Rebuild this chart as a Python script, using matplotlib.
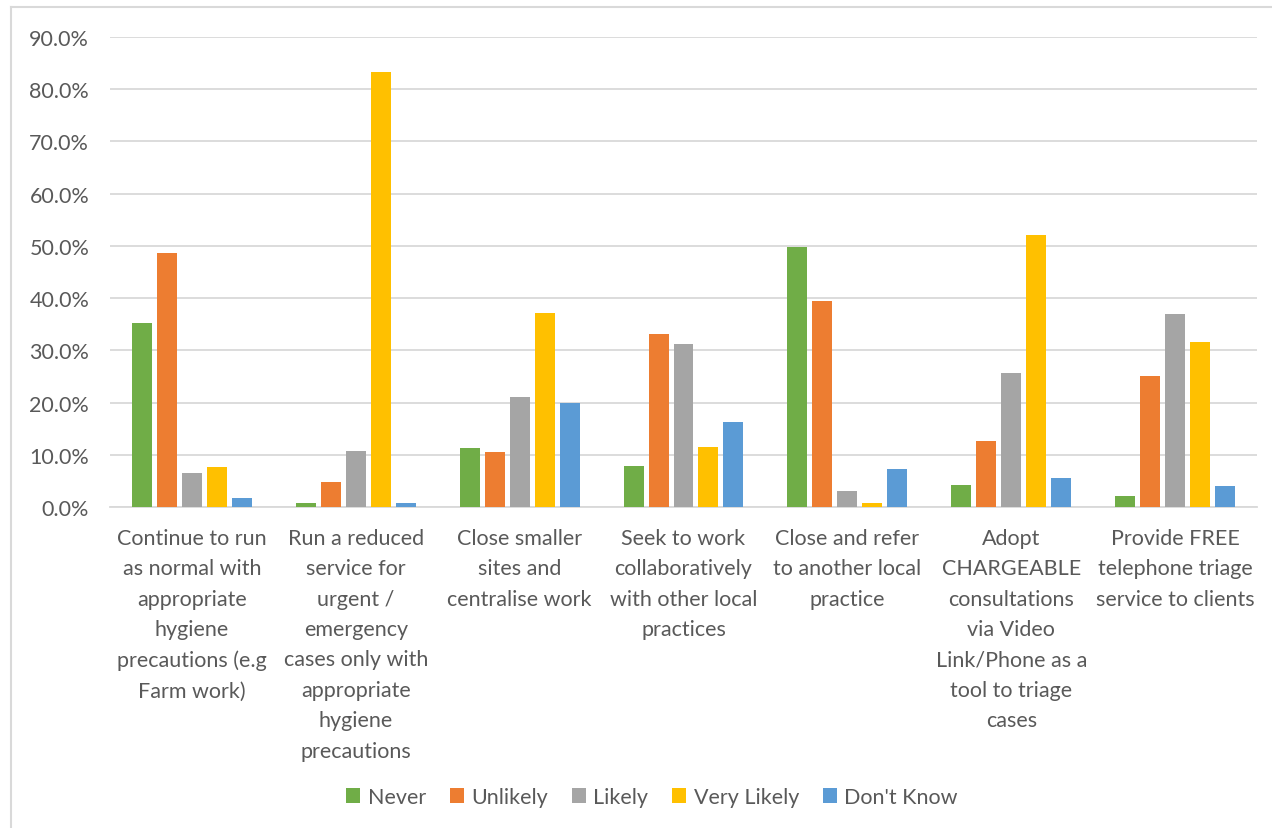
import numpy as np
import matplotlib.pyplot as plt
from matplotlib.lines import Line2D

# categories, as wrapped in the reference
categories = [
    "Continue to run\nas normal with\nappropriate\nhygiene\nprecautions (e.g\nFarm work)",
    "Run a reduced\nservice for\nurgent /\nemergency\ncases only with\nappropriate\nhygiene\nprecautions",
    "Close smaller\nsites and\ncentralise work",
    "Seek to work\ncollaboratively\nwith other local\npractices",
    "Close and refer\nto another local\npractice",
    "Adopt\nCHARGEABLE\nconsultations\nvia Video\nLink/Phone as a\ntool to triage\ncases",
    "Provide FREE\ntelephone triage\nservice to clients",
]

series_names = ["Never", "Unlikely", "Likely", "Very Likely", "Don't Know"]
never = [35.2, 0.7, 11.3, 7.8, 49.7, 4.2, 2.2]
unlikely = [48.7, 4.8, 10.6, 33.1, 39.4, 12.6, 25.1]
likely = [6.6, 10.7, 21.1, 31.3, 3.0, 25.7, 36.9]
very_likely = [7.7, 83.3, 37.1, 11.5, 0.7, 52.0, 31.6]
dont_know = [1.8, 0.7, 19.9, 16.3, 7.3, 5.5, 4.1]
colors = ["#70AD47", "#ED7D31", "#A5A5A5", "#FFC000", "#5B9BD5"]

plt.rcParams['font.family'] = ['Lato', 'DejaVu Sans']
txt = "#595959"
fs = 15.5

fig = plt.figure(figsize=(12.72, 8.29), dpi=100)
ax = fig.add_axes([110/1272, 1 - 508/829, 1147/1272, 470/829])

x = np.arange(len(categories))
step = 0.1525
width = 0.122
all_vals = [never, unlikely, likely, very_likely, dont_know]
for i, vals in enumerate(all_vals):
    ax.bar(x + (i - 2) * step, vals, width, color=colors[i],
           label=series_names[i], zorder=3)

ax.set_xlim(-0.5, len(categories) - 0.5)
ax.set_ylim(0, 90)
ax.set_yticks(np.arange(0, 91, 10))
ax.set_yticklabels([f"{v:.1f}%" for v in np.arange(0, 91, 10)],
                   fontsize=fs, color=txt)
ax.set_xticks(x)
ax.set_xticklabels(categories, fontsize=fs, color=txt, linespacing=1.65,
                   va='top')
ax.tick_params(axis='both', length=0)
ax.tick_params(axis='x', pad=15)
ax.tick_params(axis='y', pad=15)
ax.grid(axis='y', color="#D9D9D9", linewidth=1.3, zorder=0)
for s in ["top", "right", "left"]:
    ax.spines[s].set_visible(False)
ax.spines["bottom"].set_color("#D9D9D9")
ax.spines["bottom"].set_linewidth(1.3)

leg = fig.legend(loc='center', bbox_to_anchor=(652/1272, 1 - 798/829), ncol=5,
                 frameon=False, fontsize=fs, handlelength=0.65, handleheight=0.65,
                 handletextpad=0.35, columnspacing=1.1)
for t in leg.get_texts():
    t.set_color(txt)

# chart border (visible on left and top)
fig.add_artist(Line2D([11/1272, 11/1272], [0, 1 - 8/829], color="#D9D9D9",
                      linewidth=1.5, transform=fig.transFigure))
fig.add_artist(Line2D([11/1272, 1], [1 - 8/829, 1 - 8/829], color="#D9D9D9",
                      linewidth=1.5, transform=fig.transFigure))

fig.savefig("out.png", dpi=100)
